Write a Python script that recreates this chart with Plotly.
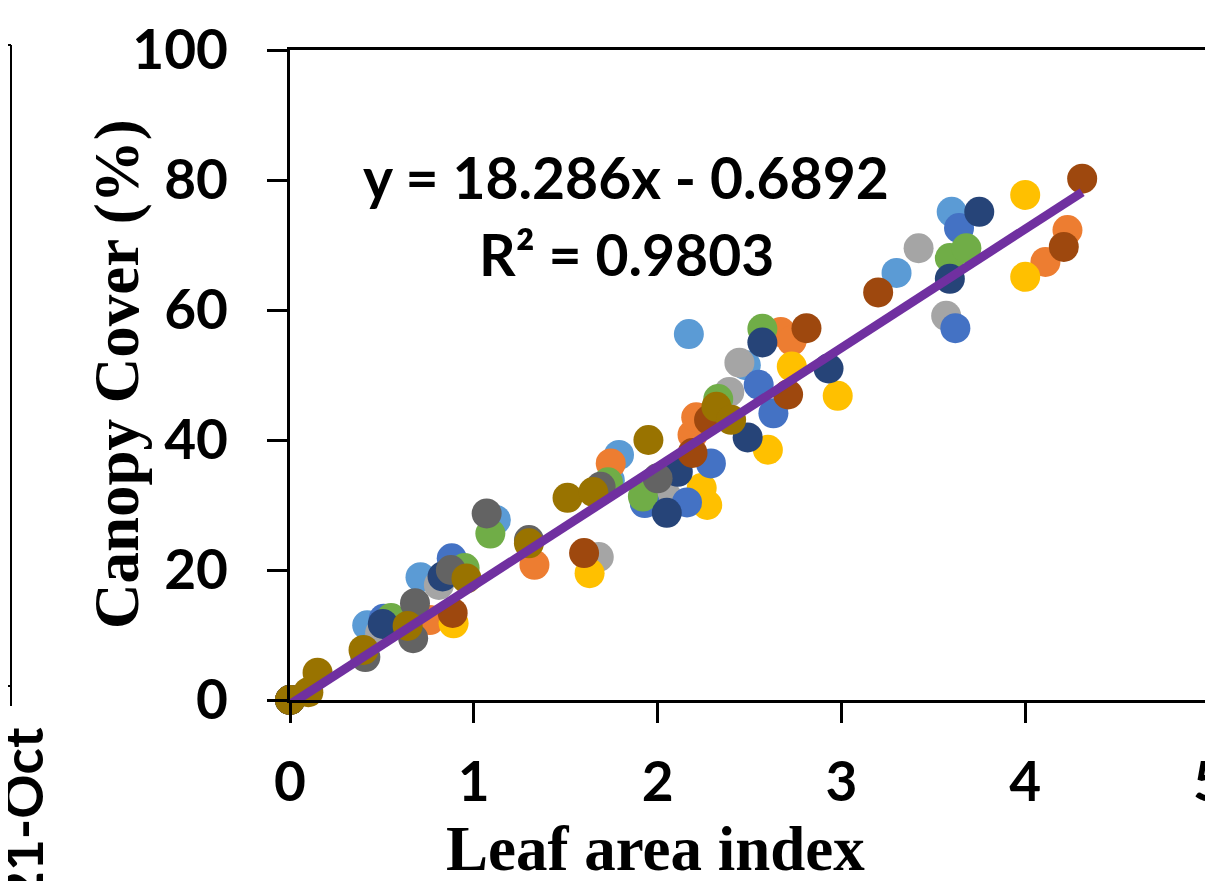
import plotly.graph_objects as go

# ---------------- data ----------------
series_names = ["Series 1", "Series 2", "Series 3", "Series 4", "Series 5",
                "Series 6", "Series 7", "Series 8", "Series 9", "Series 10"]
series_colors = ["#5B9BD5", "#ED7D31", "#A5A5A5", "#FFC000", "#4472C4",
                 "#70AD47", "#264478", "#9E480E", "#636363", "#997300"]

lai_s1 = [0, 0.42, 0.71, 1.12, 1.74, 1.79, 2.17, 2.48, 3.30, 3.60]
cc_s1 = [0, 11.5, 18.9, 27.7, 33.8, 37.7, 56.3, 51.5, 65.7, 75.1]
lai_s2 = [0, 0.76, 1.33, 1.745, 2.19, 2.21, 2.67, 2.73, 4.11, 4.23]
cc_s2 = [0, 12.3, 20.8, 36.4, 40.8, 43.5, 56.6, 55.3, 67.4, 72.3]
lai_s3 = [0, 0.49, 0.81, 1.68, 2.05, 2.39, 2.445, 3.42, 3.57]
cc_s3 = [0, 10.3, 17.7, 22.0, 31.3, 47.4, 51.9, 69.5, 59.1]
lai_s4 = [0, 0.89, 1.63, 2.24, 2.27, 2.60, 2.73, 2.98, 4.0, 4.0]
cc_s4 = [0, 11.8, 19.5, 32.6, 30.0, 38.5, 51.3, 46.8, 65.1, 77.7]
lai_s5 = [0, 0.51, 0.88, 1.93, 2.16, 2.29, 2.55, 2.63, 3.62, 3.64]
cc_s5 = [0, 12.5, 21.8, 30.3, 30.4, 36.4, 48.5, 44.1, 57.2, 72.6]
lai_s6 = [0, 0.55, 0.95, 1.09, 1.73, 1.92, 2.33, 2.57, 3.59, 3.68]
cc_s6 = [0, 12.6, 20.3, 25.6, 33.5, 31.3, 46.3, 57.1, 68.0, 69.5]
lai_s7 = [0, 0.505, 0.83, 2.05, 2.11, 2.49, 2.57, 2.93, 3.59, 3.75]
cc_s7 = [0, 11.7, 19.0, 28.8, 35.1, 40.4, 55.0, 51.0, 64.8, 75.1]
lai_s8 = [0, 0.885, 1.60, 2.19, 2.28, 2.71, 2.81, 3.20, 4.21, 4.31]
cc_s8 = [0, 13.4, 22.6, 38.0, 43.1, 47.0, 57.2, 62.7, 69.7, 80.2]
lai_s9 = [0, 0.41, 0.67, 0.68, 0.875, 1.07, 1.30, 1.69, 2.0]
cc_s9 = [0, 6.6, 9.5, 14.9, 20.0, 28.7, 24.6, 32.8, 34.1]
lai_s10 = [0, 0.10, 0.15, 0.40, 0.64, 0.96, 1.30, 1.51, 1.65, 1.95, 2.32, 2.40]
cc_s10 = [0, 1.2, 4.2, 7.7, 11.4, 18.7, 24.1, 31.1, 32.0, 40.0, 45.1, 43.1]

lai_series = [lai_s1, lai_s2, lai_s3, lai_s4, lai_s5, lai_s6, lai_s7, lai_s8, lai_s9, lai_s10]
cc_series = [cc_s1, cc_s2, cc_s3, cc_s4, cc_s5, cc_s6, cc_s7, cc_s8, cc_s9, cc_s10]

slope = 18.286
intercept = -0.6892
r_squared = 0.9803

x_ticks = [0, 1, 2, 3, 4, 5]
y_ticks = [0, 20, 40, 60, 80, 100]
x_title = "Leaf area index"
y_title = "Canopy Cover (%)"
neighbour_label = "21-Oct"

# ---------------- figure ----------------
W, H = 1213, 881
OFF = 8  # page body margin
# wanted plot box in screen pixels: left 290, right 1209, top 50, bottom 700
ML = 290 - OFF
MT = 50 - OFF
MR = W - (1209 - OFF)
MB = H - (700 - OFF)
PW, PH = W - ML - MR, H - MT - MB


def px_x(px):
    return (px - OFF - ML) / PW


def px_y(py):
    return (H - MB - (py - OFF)) / PH


fig = go.Figure()
for name, col, xs, ys in zip(series_names, series_colors, lai_series, cc_series):
    fig.add_trace(go.Scatter(x=xs, y=ys, mode="markers", name=name,
                             marker=dict(color=col, size=30, line=dict(width=0)),
                             showlegend=False, cliponaxis=False))

all_x = [v for s in lai_series for v in s]
x0, x1 = min(all_x), max(all_x)
fig.add_trace(go.Scatter(x=[x0, x1], y=[slope * x0 + intercept, slope * x1 + intercept],
                         mode="lines", line=dict(color="#7030A0", width=9),
                         showlegend=False, hoverinfo="skip", cliponaxis=False))

tick_font = dict(family="Lato", size=55, color="black", weight="bold")
common = dict(showgrid=False, zeroline=False, showline=True, linecolor="black",
              linewidth=3, tickcolor="black", tickwidth=3, ticklen=20,
              automargin=False, ticklabeloverflow="allow")

fig.update_layout(
    width=W, height=H,
    margin=dict(l=ML, r=MR, t=MT, b=MB, pad=0, autoexpand=False),
    paper_bgcolor="white", plot_bgcolor="white",
    xaxis=dict(range=[0, 5], tickvals=x_ticks, ticks="outside", mirror=True,
               tickfont=tick_font, ticklabelstandoff=12, **common),
    yaxis=dict(range=[0, 100], tickvals=y_ticks, ticks="outside", mirror=True,
               tickfont=tick_font, ticklabelstandoff=28, **common),
    xaxis2=dict(range=[0, 5], tickvals=x_ticks, ticks="inside", overlaying="x",
                anchor="y", side="bottom", showticklabels=False, **common),
    yaxis2=dict(range=[0, 100], tickvals=y_ticks, ticks="inside", overlaying="y",
                anchor="x", side="left", showticklabels=False, **common),
)

eq_font = dict(family="Lato", size=57, color="black", weight="bold")
fig.add_annotation(x=px_x(626), y=px_y(177), xref="paper", yref="paper",
                   text=f"y = {slope}x - {abs(intercept)}", showarrow=False,
                   font=eq_font, xanchor="center", yanchor="middle")
fig.add_annotation(x=px_x(626), y=px_y(254), xref="paper", yref="paper",
                   text=f"R² = {r_squared}", showarrow=False,
                   font=eq_font, xanchor="center", yanchor="middle")

title_font = dict(family="Liberation Serif", size=63, color="black", weight="bold")
fig.add_annotation(x=px_x(655), y=px_y(849), xref="paper", yref="paper",
                   text=x_title, showarrow=False, font=title_font,
                   xanchor="center", yanchor="middle")
fig.add_annotation(x=px_x(117), y=px_y(374), xref="paper", yref="paper",
                   text=y_title, showarrow=False, font=title_font, textangle=-90,
                   xanchor="center", yanchor="middle")

# neighbouring (cropped) panel on the left
thin = dict(color="black", width=2)
fig.add_shape(type="line", xref="paper", yref="paper",
              x0=px_x(11), x1=px_x(11), y0=px_y(45), y1=px_y(706), line=thin)
fig.add_shape(type="line", xref="paper", yref="paper",
              x0=px_x(-10), x1=px_x(11), y0=px_y(45), y1=px_y(45), line=thin)
fig.add_shape(type="line", xref="paper", yref="paper",
              x0=px_x(-10), x1=px_x(11), y0=px_y(686), y1=px_y(686), line=thin)
fig.add_annotation(x=px_x(22), y=px_y(815), xref="paper", yref="paper",
                   text=neighbour_label, showarrow=False, textangle=-90,
                   font=dict(family="Lato", size=55, color="black", weight="bold"),
                   xanchor="center", yanchor="middle")

fig.write_html("out.html")
